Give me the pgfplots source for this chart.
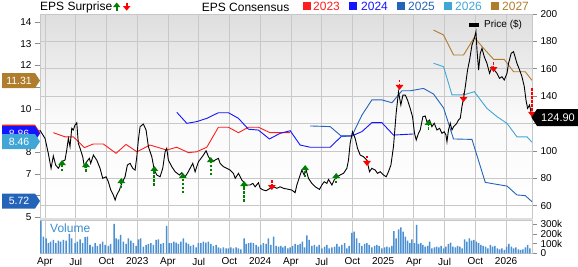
\documentclass[border=0pt]{standalone}
\usepackage{fontspec}
\setmainfont{Liberation Sans}
\usepackage{pgfplots}
\pgfplotsset{compat=1.18}
\usetikzlibrary{arrows.meta}
\definecolor{cA}{RGB}{255,30,30}
\definecolor{cB}{RGB}{20,20,255}
\definecolor{cC}{RGB}{35,100,185}
\definecolor{cD}{RGB}{64,166,214}
\definecolor{cE}{RGB}{176,125,45}
\definecolor{grd}{RGB}{200,200,200}
\definecolor{vol}{RGB}{74,144,210}
\definecolor{upg}{RGB}{0,128,0}
\definecolor{dng}{RGB}{255,0,0}
\definecolor{voltxt}{RGB}{58,140,205}
\pgfplotsset{
 base/.style={scale only axis, width=492pt, height=204pt, xmin=2.51, xmax=50.53,
   at={(40pt,48pt)}, anchor=south west,
   tick label style={font=\fontsize{10}{12}\selectfont},
   /pgf/number format/assume math mode=true},
}
\begin{document}
\begin{tikzpicture}
\useasboundingbox (0,0) rectangle (578pt,266pt);
% ---------- background, grid, price ticks
\begin{axis}[base, ymin=51, ymax=200,
 ytick={60,80,...,200}, yticklabels={60,80,100,,140,160,180,200}, yticklabel pos=right, ytick pos=right,
 xtick={3,6,...,48}, xticklabels={},
 grid=major, major grid style={grd, line width=0.8pt},
 axis line style={black!22, line width=0.8pt},
 y tick style={black!45, line width=0.6pt}, x tick style={draw=none},
 tick align=outside, major tick length=5pt,
 axis background/.style={shade, top color=black!13, bottom color=white, middle color=black!2}]
\end{axis}
% ---------- EPS consensus (left axis)
\begin{axis}[base, ymin=4.968, ymax=14.369, ytick={5,...,14}, yticklabels={5,,7,8,,10,,12,13,14}, ytick pos=left,
 hide x axis, axis line style={draw=none}, y tick style={black!45, line width=0.6pt},
 tick align=outside, major tick length=5pt]
\addplot[cA, line width=0.9pt] coordinates {(3.81,8.90) (4.95,8.71) (5.76,8.71) (6.10,8.56) (6.84,8.21) (7.72,8.38) (8.69,8.38) (9.93,7.95) (10.91,8.36) (11.96,8.02) (13.25,8.33) (14.88,8.10) (15.86,8.23) (16.99,7.98) (17.81,8.02) (18.79,8.23) (19.92,9.15) (20.90,9.15) (21.88,8.90) (22.85,9.15) (23.83,9.15) (24.97,8.90) (26.93,8.90)};
\addplot[cB, line width=0.9pt] coordinates {(15.86,9.84) (16.84,9.33) (17.81,9.41) (18.79,9.56) (19.92,9.82) (20.90,9.82) (21.88,9.56) (22.85,9.06) (23.83,9.02) (24.90,8.61) (25.95,8.87) (26.93,8.99) (27.90,8.33) (28.88,8.23) (30.83,8.23) (31.97,8.75) (32.95,8.75) (33.93,8.95) (34.90,9.36) (35.88,9.36) (37.01,8.79) (38.96,8.84)};
\addplot[cC, line width=0.9pt] coordinates {(28.88,9.21) (30.83,9.18) (31.97,8.72) (32.95,8.75) (33.93,9.71) (34.90,10.41) (35.88,10.41) (36.86,10.28) (37.83,10.83) (38.64,10.83) (39.94,10.94) (40.92,10.68) (41.90,10.04) (42.87,8.61) (44.67,8.59) (45.97,6.61) (46.95,6.53) (48.09,6.44) (49.06,6.03) (49.87,6.00) (50.53,5.72)};
\addplot[cD, line width=0.9pt] coordinates {(40.92,12.10) (41.90,11.94) (42.72,10.64) (43.85,10.64) (44.90,10.79) (46.13,10.02) (47.11,9.64) (48.09,9.33) (49.06,8.71) (50.04,8.71) (50.53,8.46)};
\addplot[cE, line width=0.9pt] coordinates {(40.92,13.63) (41.90,13.40) (42.87,12.48) (43.85,12.48) (44.90,13.29) (45.80,12.79) (46.78,12.28) (47.82,12.28) (48.73,11.71) (49.87,11.71) (50.53,11.31)};
\end{axis}
% ---------- price and surprises
\begin{axis}[base, ymin=51, ymax=200, hide axis, clip=false]
\addplot[black, line width=0.9pt] coordinates {(2.51,115.0) (3.00,109.2) (3.32,98.2) (3.59,87.3) (3.81,96.3) (4.04,89.7) (4.30,87.3) (4.63,92.1) (4.95,93.3) (5.12,100.7) (5.28,109.2) (5.44,103.1) (5.61,116.5) (5.76,115.3) (5.93,118.9) (6.10,120.6) (6.25,105.5) (6.42,101.9) (6.68,95.8) (6.84,88.5) (7.07,92.1) (7.33,94.6) (7.46,90.9) (7.72,97.0) (8.05,93.3) (8.37,87.3) (8.63,80.0) (8.96,81.1) (9.18,77.5) (9.42,71.4) (9.67,67.8) (9.84,64.1) (10.00,67.8) (10.26,71.4) (10.49,76.3) (10.81,81.1) (11.04,89.7) (11.30,90.9) (11.56,87.3) (11.79,86.0) (11.96,95.8) (12.11,108.0) (12.28,117.7) (12.60,119.6) (12.86,115.3) (13.09,103.1) (13.42,95.8) (13.67,86.0) (13.91,82.4) (14.23,81.1) (14.49,87.3) (14.72,99.4) (14.88,101.9) (15.04,93.3) (15.37,88.5) (15.70,84.8) (16.12,82.4) (16.35,84.1) (16.67,81.1) (16.99,84.8) (17.16,87.3) (17.42,90.9) (17.65,84.8) (17.97,92.1) (18.23,94.6) (18.46,97.0) (18.72,100.1) (18.95,95.8) (19.28,92.1) (19.60,93.3) (19.92,94.6) (20.09,90.9) (20.41,88.5) (20.74,87.3) (21.07,86.0) (21.39,83.6) (21.56,80.0) (21.88,83.6) (22.21,78.7) (22.37,77.5) (22.70,75.1) (23.02,75.1) (23.28,76.3) (23.51,73.8) (23.83,76.8) (24.00,72.7) (24.32,71.4) (24.58,70.9) (24.97,72.7) (25.30,73.8) (25.63,72.7) (25.95,73.8) (26.27,72.7) (26.60,72.2) (27.09,71.4) (27.41,69.5) (27.58,75.1) (27.90,82.4) (28.07,86.0) (28.29,82.4) (28.49,86.0) (28.71,80.0) (29.04,76.3) (29.37,73.8) (29.79,71.9) (30.02,75.1) (30.25,77.5) (30.51,76.3) (30.67,79.2) (31.00,75.1) (31.22,78.7) (31.49,81.1) (31.81,82.4) (32.13,83.6) (32.46,87.3) (32.62,93.3) (32.78,105.5) (33.01,114.0) (33.27,109.2) (33.50,101.9) (33.76,97.0) (34.08,95.8) (34.41,93.3) (34.67,84.8) (34.90,87.3) (35.23,86.0) (35.45,83.6) (35.71,84.8) (36.04,82.4) (36.30,81.1) (36.52,84.8) (36.76,89.7) (37.01,103.1) (37.27,127.5) (37.50,143.2) (37.73,133.5) (37.93,140.8) (38.16,140.8) (38.38,137.2) (38.64,131.1) (38.87,125.0) (39.06,112.9) (39.23,108.0) (39.45,112.9) (39.62,115.3) (39.88,125.0) (40.11,125.5) (40.27,121.3) (40.53,122.6) (40.76,117.7) (40.99,120.2) (41.25,115.3) (41.51,116.5) (41.74,112.9) (41.96,114.0) (42.13,111.6) (42.23,106.7) (42.38,115.3) (42.55,120.2) (42.72,115.3) (42.87,117.7) (43.14,119.6) (43.36,122.6) (43.53,123.8) (43.69,132.3) (43.85,138.4) (44.02,146.9) (44.24,159.1) (44.44,166.4) (44.67,177.4) (44.90,182.2) (45.06,187.1) (45.16,173.7) (45.32,159.1) (45.48,171.3) (45.65,174.9) (45.87,168.8) (46.13,164.0) (46.39,156.7) (46.62,161.5) (46.85,159.1) (47.11,156.7) (47.36,153.0) (47.60,154.2) (47.82,151.8) (48.09,156.7) (48.24,164.0) (48.50,171.3) (48.73,172.5) (49.06,164.0) (49.32,159.1) (49.55,154.2) (49.78,146.9) (49.94,137.2) (50.10,131.1) (50.29,133.5) (50.53,124.9)};
\addplot[upg, line width=1.8pt, dash pattern=on 2.5pt off 1.5pt, -{Triangle[width=7.5pt,length=5pt]},
 quiver={u=0, v=\thisrow{v}}] table[x=x, y=y] {
x y v
4.66 85.3 8.0
7.00 84.6 7.3
10.45 72.9 7.3
13.67 74.4 14.6
16.45 69.2 14.7
19.18 82.4 13.1
22.43 62.7 15.3
28.39 80.9 8.8
31.42 76.5 7.4
40.43 115.3 7.3
};
\addplot[dng, line width=1.8pt, dash pattern=on 2.5pt off 1.5pt, -{Triangle[width=7.5pt,length=5pt]},
 quiver={u=0, v=\thisrow{v}}] table[x=x, y=y] {
x y v
25.14 78.7 -7.3
34.42 96.3 -7.3
37.60 151.8 -7.3
43.85 142.3 -6.6
46.78 164.9 -7.3
50.53 145.9 -21.1
};
\end{axis}
% ---------- volume
\begin{axis}[scale only axis, width=492pt, height=33.3pt, at={(40pt,12.7pt)}, anchor=south west,
 xmin=2.51, xmax=50.53, ymin=0, ymax=344,
 ybar, bar width=1.5pt,
 ytick={0,100,200,300}, yticklabels={0,100k,200k,300k}, yticklabel pos=right, ytick pos=right,
 xtick={3,6,...,48},
 xticklabels={Apr,Jul,Oct,2023,Apr,Jul,Oct,2024,Apr,Jul,Oct,2025,Apr,Jul,Oct,2026},
 xmajorgrids, major grid style={grd, line width=0.8pt},
 axis line style={black!22, line width=0.8pt}, x tick style={draw=none},
 y tick style={black!45, line width=0.6pt}, tick align=outside, major tick length=5pt,
 tick label style={font=\fontsize{10}{12}\selectfont}, xticklabel style={yshift=4pt},
 /pgf/number format/assume math mode=true]
\addplot[fill=vol, draw=none] coordinates {(2.60,338) (2.84,172) (3.10,155) (3.33,104) (3.55,121) (3.81,138) (4.07,104) (4.30,131) (4.53,121) (4.79,138) (5.05,131) (5.38,200) (5.60,155) (5.93,104) (6.16,121) (6.42,145) (6.68,104) (6.91,166) (7.13,172) (7.39,86) (7.65,69) (7.88,104) (8.11,76) (8.37,97) (8.63,121) (8.86,86) (9.18,76) (9.41,97) (9.74,304) (9.93,155) (10.16,145) (10.39,190) (10.65,121) (10.91,97) (11.14,155) (11.37,131) (11.63,104) (11.89,76) (12.11,145) (12.34,155) (12.60,69) (12.86,86) (13.09,97) (13.32,104) (13.58,86) (13.84,138) (14.07,145) (14.30,97) (14.56,104) (14.88,283) (15.11,104) (15.34,104) (15.57,121) (15.79,110) (16.02,97) (16.25,121) (16.51,155) (16.77,110) (17.00,97) (17.22,76) (17.49,86) (17.75,62) (17.97,104) (18.20,104) (18.46,121) (18.69,110) (18.95,121) (19.18,97) (19.44,76) (19.70,86) (19.93,62) (20.15,52) (20.41,62) (20.67,52) (20.90,52) (21.13,62) (21.39,52) (21.65,62) (21.88,52) (22.11,41) (22.43,155) (22.63,97) (22.86,104) (23.08,110) (23.34,104) (23.61,86) (23.83,69) (24.06,86) (24.32,104) (24.58,97) (24.81,155) (25.04,86) (25.30,172) (25.56,76) (25.79,69) (26.01,76) (26.22,62) (26.44,76) (26.70,52) (26.93,62) (27.16,76) (27.42,97) (27.68,86) (27.90,97) (28.13,121) (28.33,62) (28.56,186) (28.78,138) (29.04,76) (29.30,86) (29.53,69) (29.76,86) (30.02,52) (30.28,69) (30.51,86) (30.74,52) (31.00,62) (31.26,69) (31.49,97) (31.71,69) (31.97,86) (32.23,104) (32.46,52) (32.69,76) (32.95,210) (33.18,224) (33.41,155) (33.67,104) (33.93,76) (34.19,97) (34.41,104) (34.64,86) (34.90,62) (35.16,76) (35.39,86) (35.62,76) (35.88,52) (36.14,62) (36.37,69) (36.60,62) (36.86,76) (37.05,228) (37.28,155) (37.51,248) (37.73,269) (37.96,224) (38.16,172) (38.39,131) (38.61,104) (38.81,145) (39.04,104) (39.26,293) (39.46,97) (39.69,104) (39.88,86) (40.11,69) (40.34,76) (40.53,121) (40.76,52) (40.99,62) (41.22,69) (41.45,62) (41.67,76) (41.90,52) (42.13,69) (42.36,97) (42.58,110) (42.81,69) (43.04,62) (43.27,76) (43.50,69) (43.72,52) (43.95,145) (44.18,121) (44.41,155) (44.64,131) (44.86,138) (45.09,121) (45.32,104) (45.55,86) (45.77,76) (46.00,69) (46.23,52) (46.46,86) (46.69,69) (46.91,76) (47.14,52) (47.37,41) (47.60,52) (47.83,35) (48.05,69) (48.28,97) (48.51,69) (48.74,52) (48.96,62) (49.19,41) (49.42,35) (49.65,41) (49.88,62) (50.10,86) (50.33,52)};
\end{axis}
% ---------- annotations
\begin{scope}[x=1pt, y=1pt]
\fill[black!13] (40,45.8) rectangle (532,48.5);
\node[anchor=west, inner sep=0, font=\fontsize{12}{14}\selectfont, text=voltxt] at (50,38) {Volume};
% left tags
\newcommand{\ltagshape}[2]{\fill[#1] (2,#2-7.5) -- (35,#2-7.5) -- (40,#2) -- (35,#2+7.5) -- (2,#2+7.5) -- cycle;}
\newcommand{\ltag}[3]{\ltagshape{#1}{#2}
 \node[text=white, inner sep=0, font=\fontsize{10.5}{12}\selectfont] at (19,#2) {#3};}
\ltagshape{cA}{133.8}
\ltag{cB}{132.5}{8.86}
\ltag{cD}{124.5}{8.46}
\ltag{cE}{185.5}{11.31}
\ltag{cC}{65}{5.72}
% price tag
\fill[black] (531.5,148.5) -- (537,157) -- (578,157) -- (578,140) -- (537,140) -- cycle;
\node[text=white, inner sep=0, font=\fontsize{11}{13}\selectfont] at (558,148.5) {124.90};
% top legend
\node[anchor=west, inner sep=0, font=\fontsize{12}{14}\selectfont] at (40,259) {EPS Surprise};
\draw[upg, line width=2pt, -{Triangle[width=7pt,length=4.5pt]}] (116.7,255.3) -- (116.7,263.5);
\draw[dng, line width=2pt, -{Triangle[width=7pt,length=4.5pt]}] (126.7,263.5) -- (126.7,255.3);
\node[anchor=west, inner sep=0, font=\fontsize{12}{14}\selectfont] at (201.7,259) {EPS Consensus};
\fill[cA] (302.7,256.5) rectangle (310.7,264.5);
\node[anchor=west, inner sep=0, font=\fontsize{12}{14}\selectfont, text=cA] at (313,259.5) {2023};
\fill[cB] (349,256.5) rectangle (357,264.5);
\node[anchor=west, inner sep=0, font=\fontsize{12}{14}\selectfont, text=cB] at (361,259.5) {2024};
\fill[cC] (397,256.5) rectangle (405,264.5);
\node[anchor=west, inner sep=0, font=\fontsize{12}{14}\selectfont, text=cC] at (408,259.5) {2025};
\fill[cD] (444,256.5) rectangle (452,264.5);
\node[anchor=west, inner sep=0, font=\fontsize{12}{14}\selectfont, text=cD] at (455,259.5) {2026};
\fill[cE] (491,256.5) rectangle (499,264.5);
\node[anchor=west, inner sep=0, font=\fontsize{12}{14}\selectfont, text=cE] at (502,259.5) {2027};
% price legend
\fill[black] (468.5,238.7) rectangle (479,243.5);
\node[anchor=west, inner sep=0, font=\fontsize{10}{12}\selectfont] at (484,241) {Price (\$)};
\end{scope}
\end{tikzpicture}
\end{document}
